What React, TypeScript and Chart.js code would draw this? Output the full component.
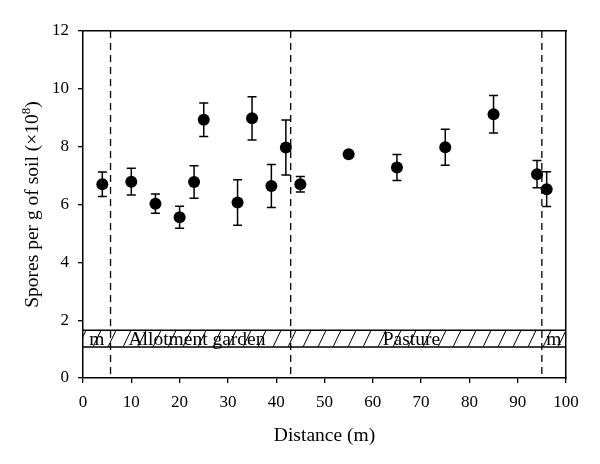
import { useEffect, useRef } from "react";
import { Chart, registerables } from "chart.js";

Chart.register(...registerables);

const distances = [4, 10, 15, 20, 23, 25, 32, 35, 39, 42, 45, 55, 65, 75, 85, 94, 96];
const spores = [6.7, 6.79, 6.03, 5.56, 6.78, 8.93, 6.07, 8.98, 6.64, 7.97, 6.7, 7.74, 7.28, 7.98, 9.12, 7.05, 6.53];
const errors = [0.42, 0.46, 0.33, 0.38, 0.56, 0.58, 0.79, 0.75, 0.74, 0.95, 0.27, 0.1, 0.45, 0.62, 0.65, 0.47, 0.6];
const boundaries = [5.7, 43, 95];
const zoneLabels = ["m", "Allotment garden", "Pasture", "m"];
const zoneLabelX = [2.85, 23.6, 68, 97.5];
const bandRange = [1.07, 1.65];
const xTitle = "Distance (m)";
const yTitleMain = "Spores per g of soil (\u00d710";
const yTitleSup = "8";
const yTitleEnd = ")";

const FONT = '"Liberation Serif", serif';
const TXT = 19.5;
const SUP = 13;

const overlay = {
  id: "overlay",
  beforeDatasetsDraw(chart: any) {
    const { ctx, chartArea: a, scales } = chart;
    const x = scales.x;
    const y = scales.y;
    ctx.save();
    // hatched band
    const top = y.getPixelForValue(bandRange[1]);
    const bot = y.getPixelForValue(bandRange[0]);
    ctx.save();
    ctx.beginPath();
    ctx.rect(a.left, top, a.right - a.left, bot - top);
    ctx.clip();
    ctx.strokeStyle = "#000";
    ctx.lineWidth = 1;
    ctx.beginPath();
    for (let px = a.left - 20; px < a.right + 20; px += 15) {
      ctx.moveTo(px, bot);
      ctx.lineTo(px + 8, top);
    }
    ctx.stroke();
    ctx.restore();
    ctx.strokeStyle = "#000";
    ctx.lineWidth = 1.5;
    ctx.beginPath();
    ctx.moveTo(a.left, top);
    ctx.lineTo(a.right, top);
    ctx.moveTo(a.left, bot);
    ctx.lineTo(a.right, bot);
    ctx.stroke();
    // dashed boundaries
    ctx.setLineDash([7, 5]);
    ctx.lineWidth = 1.3;
    boundaries.forEach((b) => {
      const px = x.getPixelForValue(b);
      ctx.beginPath();
      ctx.moveTo(px, a.top);
      ctx.lineTo(px, a.bottom);
      ctx.stroke();
    });
    ctx.setLineDash([]);
    // zone labels
    ctx.fillStyle = "#000";
    ctx.font = `${TXT}px ${FONT}`;
    ctx.textAlign = "center";
    ctx.textBaseline = "middle";
    zoneLabels.forEach((t, i) => {
      ctx.fillText(t, x.getPixelForValue(zoneLabelX[i]), (top + bot) / 2 + 1);
    });
    // error bars
    ctx.lineWidth = 1.5;
    ctx.beginPath();
    distances.forEach((d, i) => {
      const px = x.getPixelForValue(d);
      const hi = y.getPixelForValue(spores[i] + errors[i]);
      const lo = y.getPixelForValue(spores[i] - errors[i]);
      ctx.moveTo(px, hi);
      ctx.lineTo(px, lo);
      ctx.moveTo(px - 4.5, hi);
      ctx.lineTo(px + 4.5, hi);
      ctx.moveTo(px - 4.5, lo);
      ctx.lineTo(px + 4.5, lo);
    });
    ctx.stroke();
    ctx.restore();
  },
  afterDraw(chart: any) {
    const { ctx, chartArea: a } = chart;
    ctx.save();
    ctx.fillStyle = "#000";
    ctx.font = `${TXT}px ${FONT}`;
    ctx.textAlign = "center";
    ctx.textBaseline = "middle";
    ctx.fillText(xTitle, (a.left + a.right) / 2, 436);
    // y title
    ctx.translate(33, (a.top + a.bottom) / 2);
    ctx.rotate(-Math.PI / 2);
    const wMain = ctx.measureText(yTitleMain).width;
    ctx.font = `${SUP}px ${FONT}`;
    const wSup = ctx.measureText(yTitleSup).width;
    ctx.font = `${TXT}px ${FONT}`;
    const wEnd = ctx.measureText(yTitleEnd).width;
    const total = wMain + wSup + wEnd;
    let cx = -total / 2;
    ctx.textAlign = "left";
    ctx.fillText(yTitleMain, cx, 0);
    cx += wMain;
    ctx.font = `${SUP}px ${FONT}`;
    ctx.fillText(yTitleSup, cx, -6);
    cx += wSup;
    ctx.font = `${TXT}px ${FONT}`;
    ctx.fillText(yTitleEnd, cx, 0);
    ctx.restore();
  },
};

export default function App() {
  const ref = useRef<HTMLCanvasElement>(null);
  useEffect(() => {
    if (!ref.current) return;
    const chart = new Chart(ref.current, {
      type: "scatter",
      data: {
        datasets: [
          {
            data: distances.map((d, i) => ({ x: d, y: spores[i] })),
            pointRadius: 6,
            pointHoverRadius: 6,
            backgroundColor: "#000",
            borderColor: "#000",
            borderWidth: 0,
          },
        ],
      },
      options: {
        animation: false,
        responsive: false,
        events: [],
        layout: { padding: { left: 0, right: 34, top: 31, bottom: 0 } },
        plugins: { legend: { display: false }, tooltip: { enabled: false } },
        scales: {
          x: {
            type: "linear",
            min: 0,
            max: 100,
            ticks: { stepSize: 10, color: "#000", font: { family: FONT, size: 17 }, padding: 9, maxRotation: 0 },
            grid: { drawOnChartArea: false, drawTicks: true, tickLength: 5, color: "#000", lineWidth: 1.3 },
            border: { display: true, color: "#000", width: 1.5 },
            afterFit: (s: any) => {
              s.height = 86;
            },
          },
          y: {
            type: "linear",
            min: 0,
            max: 12,
            ticks: { stepSize: 2, color: "#000", font: { family: FONT, size: 17 }, padding: 9 },
            grid: { drawOnChartArea: false, drawTicks: true, tickLength: 5, color: "#000", lineWidth: 1.3 },
            border: { display: true, color: "#000", width: 1.5 },
            afterFit: (s: any) => {
              s.width = 83;
            },
          },
          x2: {
            type: "linear",
            position: "top",
            min: 0,
            max: 100,
            ticks: { display: false },
            grid: { display: false, drawTicks: false },
            border: { display: true, color: "#000", width: 1.5 },
            afterFit: (s: any) => {
              s.height = 0;
            },
          },
          y2: {
            type: "linear",
            position: "right",
            min: 0,
            max: 12,
            ticks: { display: false },
            grid: { display: false, drawTicks: false },
            border: { display: true, color: "#000", width: 1.5 },
            afterFit: (s: any) => {
              s.width = 0;
            },
          },
        },
      },
      plugins: [overlay],
    } as any);
    return () => chart.destroy();
  }, []);
  return (
    <div style={{ position: "fixed", left: 0, top: 0, width: 600, height: 464, background: "#fff" }}>
      <canvas ref={ref} width={600} height={464} style={{ width: 600, height: 464, display: "block" }} />
    </div>
  );
}
